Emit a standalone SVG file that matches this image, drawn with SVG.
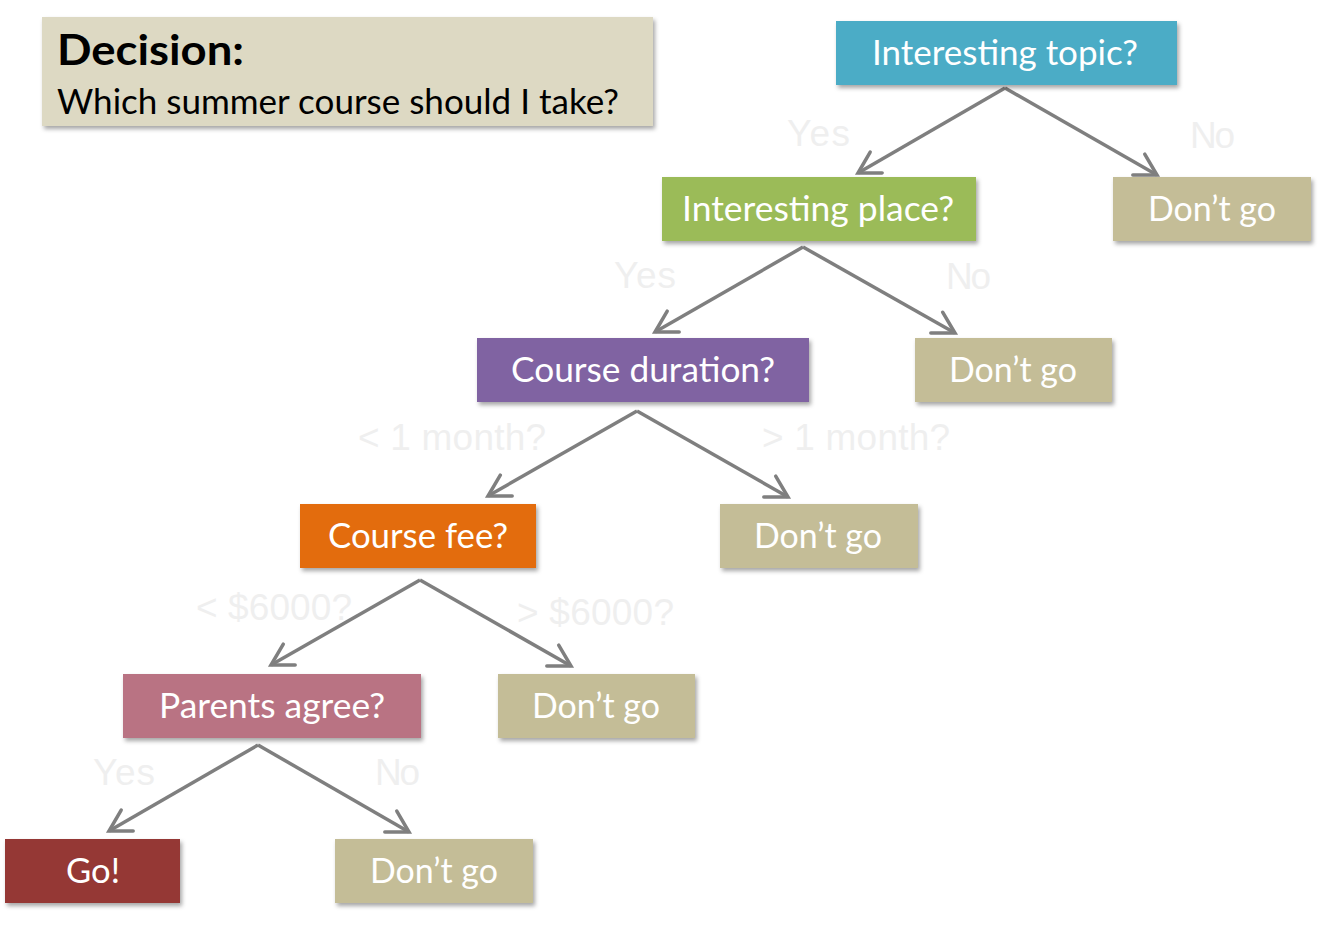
<svg xmlns="http://www.w3.org/2000/svg" width="1318" height="927" viewBox="0 0 1318 927">
<style>
.node text{font-family:Lato,"Open Sans","Liberation Sans",sans-serif;font-size:35px;fill:#ffffff;text-anchor:middle}
.lbl{font-family:"Liberation Sans",Arial,sans-serif;font-size:37px;fill:#efefef}
.conn line{stroke:#7f7f7f;stroke-width:3.5;marker-end:url(#arr)}
.title text{font-family:Lato,"Liberation Sans",sans-serif;fill:#000}
</style>
<defs>
<filter id="sh" x="-10%" y="-20%" width="125%" height="150%">
<feDropShadow dx="2" dy="3" stdDeviation="2" flood-color="#000" flood-opacity="0.35"/>
</filter>
<marker id="arr" markerUnits="userSpaceOnUse" viewBox="-26 -15 30 30" refX="0" refY="0" markerWidth="30" markerHeight="30" orient="auto">
<path d="M -21 -12 L 0 0 L -21 12" fill="none" stroke="#7f7f7f" stroke-width="3.5" stroke-linecap="round" stroke-linejoin="miter"/>
</marker>
</defs>
<rect width="1318" height="927" fill="#ffffff"/>
<g id="title" class="title">
<rect x="42" y="17" width="611" height="109" fill="#ddd9c3" filter="url(#sh)"/>
<text x="57" y="65" font-size="42" font-weight="bold" textLength="187" lengthAdjust="spacingAndGlyphs">Decision:</text>
<text x="57" y="114" font-size="34" textLength="562" lengthAdjust="spacingAndGlyphs">Which summer course should I take?</text>
</g>
<g id="connectors" class="conn">
<line x1="1005" y1="88" x2="858" y2="173"/>
<line x1="1005" y1="88" x2="1157" y2="175"/>
<line x1="803" y1="247" x2="655" y2="332"/>
<line x1="803" y1="247" x2="955" y2="333"/>
<line x1="637" y1="411" x2="488" y2="496"/>
<line x1="637" y1="411" x2="788" y2="497"/>
<line x1="420" y1="580" x2="271" y2="665"/>
<line x1="420" y1="580" x2="571" y2="666"/>
<line x1="258" y1="745" x2="109" y2="831"/>
<line x1="258" y1="745" x2="409" y2="832"/>
</g>
<g id="labels">
<text class="lbl" x="787" y="146" textLength="63">Yes</text>
<text class="lbl" x="1190" y="148" textLength="45">No</text>
<text class="lbl" x="614" y="288" textLength="62">Yes</text>
<text class="lbl" x="946" y="289" textLength="45">No</text>
<text class="lbl" x="358" y="450" textLength="188">&lt; 1 month?</text>
<text class="lbl" x="762" y="450" textLength="188">&gt; 1 month?</text>
<text class="lbl" x="196" y="620" textLength="156">&lt; $6000?</text>
<text class="lbl" x="517" y="625" textLength="157">&gt; $6000?</text>
<text class="lbl" x="93" y="785" textLength="62">Yes</text>
<text class="lbl" x="375" y="785" textLength="45">No</text>
</g>
<g id="n1" class="node"><rect x="836" y="21" width="341" height="64" fill="#4bacc6" filter="url(#sh)"/><text x="1005" y="65" textLength="266" lengthAdjust="spacingAndGlyphs">Interesting topic?</text></g>
<g id="n2" class="node"><rect x="662" y="177" width="314" height="64" fill="#9bbb59" filter="url(#sh)"/><text x="818" y="221" textLength="272" lengthAdjust="spacingAndGlyphs">Interesting place?</text></g>
<g id="n3" class="node"><rect x="1113" y="177" width="198" height="64" fill="#c4bd97" filter="url(#sh)"/><text x="1212" y="221" textLength="128" lengthAdjust="spacingAndGlyphs">Don’t go</text></g>
<g id="n4" class="node"><rect x="477" y="338" width="332" height="64" fill="#8064a2" filter="url(#sh)"/><text x="643" y="382" textLength="264" lengthAdjust="spacingAndGlyphs">Course duration?</text></g>
<g id="n5" class="node"><rect x="915" y="338" width="197" height="64" fill="#c4bd97" filter="url(#sh)"/><text x="1013" y="382" textLength="128" lengthAdjust="spacingAndGlyphs">Don’t go</text></g>
<g id="n6" class="node"><rect x="300" y="504" width="236" height="64" fill="#e36c09" filter="url(#sh)"/><text x="418" y="548" textLength="180" lengthAdjust="spacingAndGlyphs">Course fee?</text></g>
<g id="n7" class="node"><rect x="720" y="504" width="198" height="64" fill="#c4bd97" filter="url(#sh)"/><text x="818" y="548" textLength="128" lengthAdjust="spacingAndGlyphs">Don’t go</text></g>
<g id="n8" class="node"><rect x="123" y="674" width="298" height="64" fill="#b97383" filter="url(#sh)"/><text x="272" y="718" textLength="226" lengthAdjust="spacingAndGlyphs">Parents agree?</text></g>
<g id="n9" class="node"><rect x="498" y="674" width="197" height="64" fill="#c4bd97" filter="url(#sh)"/><text x="596" y="718" textLength="128" lengthAdjust="spacingAndGlyphs">Don’t go</text></g>
<g id="n10" class="node"><rect x="5" y="839" width="175" height="64" fill="#953735" filter="url(#sh)"/><text x="93" y="883" textLength="54" lengthAdjust="spacingAndGlyphs">Go!</text></g>
<g id="n11" class="node"><rect x="335" y="839" width="198" height="64" fill="#c4bd97" filter="url(#sh)"/><text x="434" y="883" textLength="128" lengthAdjust="spacingAndGlyphs">Don’t go</text></g>
</svg>
